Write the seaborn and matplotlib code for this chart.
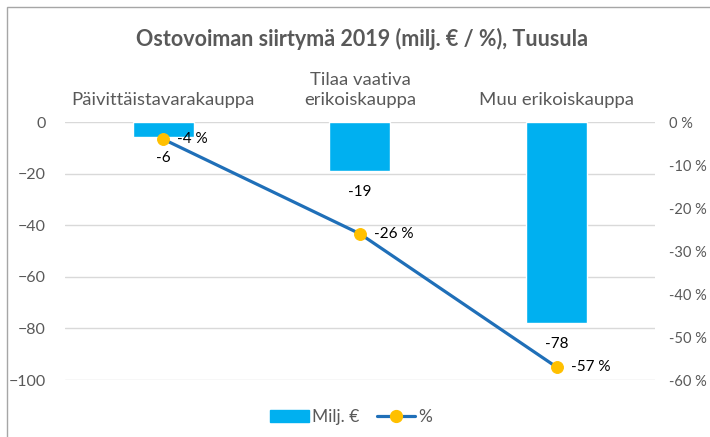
import pandas as pd
import seaborn as sns
import matplotlib.pyplot as plt
from matplotlib.patches import Rectangle, Patch
from matplotlib.lines import Line2D

# chart values
categories = ['Päivittäistavarakauppa', 'Tilaa vaativa\nerikoiskauppa', 'Muu erikoiskauppa']
milj_eur = [-6, -19, -78]
percent = [-4, -26, -57]

df = pd.DataFrame({'kategoria': categories, 'milj': milj_eur, 'pct': percent})

sns.set_style('white')
plt.rcParams['font.family'] = ['Lato', 'DejaVu Sans']

grey = '#595959'
bar_col = '#00B0F0'
line_col = '#1F6FB8'
marker_col = '#FFC000'

fig = plt.figure(figsize=(7.1, 4.37), dpi=100)
ax = fig.add_axes([0.0915, 0.1304, 0.831, 0.5904])

sns.barplot(data=df, x='kategoria', y='milj', color=bar_col, width=0.31,
            saturation=1, ax=ax)
ax.set_ylim(-100, 0)
ax.set_yticks(range(-100, 1, 20))
ax.set_xlim(-0.5, 2.5)
ax.set_xlabel('')
ax.set_ylabel('')
ax.grid(axis='y', color='#D9D9D9', lw=1)
ax.set_axisbelow(True)
for s in ax.spines.values():
    s.set_visible(False)
ax.xaxis.tick_top()
ax.tick_params(axis='x', length=0, pad=10, labelsize=13.3, labelcolor=grey)
ax.tick_params(axis='y', length=0, pad=14, labelsize=11.5, labelcolor=grey)
for lbl in ax.get_xticklabels():
    lbl.set_linespacing(1.35)

# bar labels below the bars
for i, v in enumerate(milj_eur):
    ax.annotate(f'{v}', (i, v), xytext=(0, -10), textcoords='offset points',
                ha='center', va='top', fontsize=11, color='black')

ax2 = ax.twinx()
sns.lineplot(data=df, x='kategoria', y='pct', color=line_col, lw=2.3,
             marker='o', markersize=8.5, markerfacecolor=marker_col,
             markeredgecolor=marker_col, ax=ax2)
ax2.set_ylim(-60, 0)
ax2.set_yticks(range(-60, 1, 10))
ax2.set_yticklabels([f'{t} %' for t in range(-60, 1, 10)])
ax2.set_ylabel('')
ax2.set_xlim(-0.5, 2.5)
for s in ax2.spines.values():
    s.set_visible(False)
ax2.tick_params(axis='y', length=0, pad=10, labelsize=10.5, labelcolor=grey)

for i, v in enumerate(percent):
    ax2.annotate(f'{v} %', (i, v), xytext=(10, 0), textcoords='offset points',
                 ha='left', va='center', fontsize=11, color='black')

fig.suptitle('Ostovoiman siirtymä 2019 (milj. € / %), Tuusula', x=0.51, y=0.935,
             fontsize=15.5, fontweight='bold', color=grey)

handles = [Patch(color=bar_col, label='Milj. €'),
           Line2D([], [], color=line_col, lw=2.3, marker='o', markersize=8.5,
                  markerfacecolor=marker_col, markeredgecolor=marker_col, label='%')]
fig.legend(handles=handles, loc='center', bbox_to_anchor=(0.495, 0.045), ncol=2,
           frameon=False, fontsize=12.5, labelcolor=grey, handlelength=2.2,
           handletextpad=0.2, columnspacing=1.0)

# outer chart border
fig.patches.append(Rectangle((7 / 710, -0.1), 1.1, 1 - 7 / 437 + 0.1,
                             transform=fig.transFigure, fill=False,
                             edgecolor='#A6A6A6', lw=1))

fig.savefig('out.png', dpi=100)
